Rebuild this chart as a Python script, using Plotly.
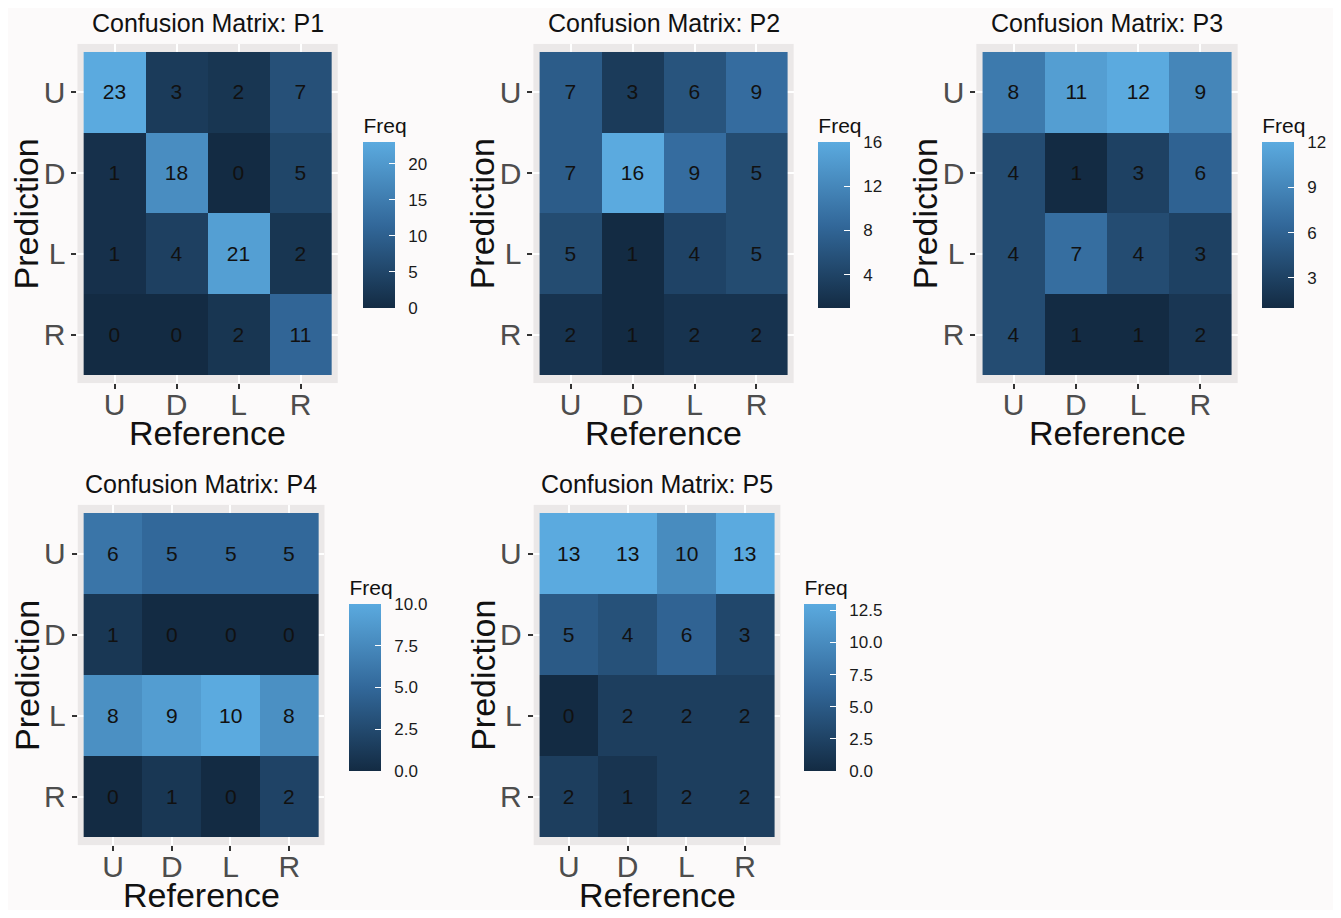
import plotly.graph_objects as go

# ---------------- data ----------------
REF_LABELS = ["U", "D", "L", "R"]      # Reference (x)
PRED_LABELS = ["U", "D", "L", "R"]     # Prediction (y), top to bottom
PANEL_NAMES = ["P1", "P2", "P3", "P4", "P5"]

P1 = [[23, 3, 2, 7], [1, 18, 0, 5], [1, 4, 21, 2], [0, 0, 2, 11]]
P2 = [[7, 3, 6, 9], [7, 16, 9, 5], [5, 1, 4, 5], [2, 1, 2, 2]]
P3 = [[8, 11, 12, 9], [4, 1, 3, 6], [4, 7, 4, 3], [4, 1, 1, 2]]
P4 = [[6, 5, 5, 5], [1, 0, 0, 0], [8, 9, 10, 8], [0, 1, 0, 2]]
P5 = [[13, 13, 10, 13], [5, 4, 6, 3], [0, 2, 2, 2], [2, 1, 2, 2]]
MATRICES = [P1, P2, P3, P4, P5]

CB_DTICK = [5, 4, 3, 2.5, 2.5]
CB_FORMAT = ["d", "d", "d", ".1f", ".1f"]

# ---------------- layout constants (pixels in the 1341x918 window) ----------------
WIN_W, WIN_H = 1341, 918
OFF = 8                      # default body margin of the html page
W, H = WIN_W - 2 * OFF, WIN_H - 2 * OFF

TILES = [(84, 333, 52, 375), (542, 791, 52, 375), (987, 1237, 52, 375),
         (84, 320, 513, 837), (542, 778, 513, 837)]
# colorbar: left x, bar top, bar bottom
CBARS = [(365, 143, 308), (822, 143, 308), (1268, 143, 308),
         (351, 605, 771), (808, 605, 771)]
CB_TITLE_H = 29
YTITLE_X = [27, 485, 930, 27, 485]

FONT = "Liberation Sans, Arial, Helvetica, sans-serif"
COLORSCALE = [[0, "#132B43"], [0.5, "#32689A"], [1, "#5BAADF"]]


def fx(px):
    return (px - OFF) / W


def fy(py):
    return 1 - (py - OFF) / H


fig = go.Figure()
annotations = []
layout = {}

for i, (mat, name) in enumerate(zip(MATRICES, PANEL_NAMES)):
    k = i + 1
    x0, x1, y0, y1 = TILES[i]
    ux = (x1 - x0) / 4.0
    uy = (y1 - y0) / 4.0
    px0, px1 = x0 - 0.1 * ux, x1 + 0.1 * ux
    py0, py1 = y0 - 0.1 * uy, y1 + 0.1 * uy
    cx, cy0, cy1 = CBARS[i]
    cb_top = cy0 - CB_TITLE_H

    fig.add_trace(go.Heatmap(
        x=REF_LABELS, y=PRED_LABELS, z=mat,
        xaxis=f"x{k}", yaxis=f"y{k}",
        colorscale=COLORSCALE,
        texttemplate="%{z}",
        textfont=dict(family=FONT, size=21, color="#111111"),
        hoverinfo="skip",
        xgap=0, ygap=0,
        colorbar=dict(
            x=fx(cx), xanchor="left", xpad=0,
            y=fy((cb_top + cy1) / 2), yanchor="middle", ypad=0,
            len=cy1 - cb_top, lenmode="pixels",
            thickness=32, thicknessmode="pixels",
            outlinewidth=0,
            title=dict(text="Freq", side="top",
                       font=dict(family=FONT, size=21, color="#111111")),
            tickmode="linear", tick0=0, dtick=CB_DTICK[i],
            tickformat=CB_FORMAT[i],
            tickprefix="\u00a0\u00a0",
            ticks="inside", ticklen=6, tickcolor="white", tickwidth=1,
            tickfont=dict(family=FONT, size=17, color="#1a1a1a"),
        ),
    ))

    axis_common = dict(
        type="category",
        showgrid=True, gridcolor="white", gridwidth=1.5,
        zeroline=False, showline=False,
        ticks="outside", ticklen=5, tickwidth=1.5, tickcolor="#333333",
        tickfont=dict(family=FONT, size=30, color="#4d4d4d"),
        fixedrange=True,
    )
    layout[f"xaxis{k}"] = dict(
        axis_common,
        domain=[fx(px0), fx(px1)], anchor=f"y{k}",
        categoryorder="array", categoryarray=REF_LABELS,
        range=[-0.6, 3.6],
        ticklabelstandoff=-10,
    )
    layout[f"yaxis{k}"] = dict(
        axis_common,
        domain=[fy(py1), fy(py0)], anchor=f"x{k}",
        categoryorder="array", categoryarray=PRED_LABELS,
        range=[3.6, -0.6],
    )

    # panel title
    annotations.append(dict(
        text=f"Confusion Matrix: {name}", xref="paper", yref="paper",
        x=fx((px0 + px1) / 2), y=fy(py0 - 21),
        xanchor="center", yanchor="middle", showarrow=False,
        font=dict(family=FONT, size=25, color="#111111")))
    # x-axis title
    annotations.append(dict(
        text="Reference", xref="paper", yref="paper",
        x=fx((px0 + px1) / 2), y=fy(py1 + 50),
        xanchor="center", yanchor="middle", showarrow=False,
        font=dict(family=FONT, size=34, color="#111111")))
    # y-axis title
    annotations.append(dict(
        text="Prediction", xref="paper", yref="paper",
        x=fx(YTITLE_X[i]), y=fy((py0 + py1) / 2),
        xanchor="center", yanchor="middle", showarrow=False, textangle=-90,
        font=dict(family=FONT, size=34, color="#111111")))

fig.update_layout(
    width=W, height=H, autosize=False,
    margin=dict(l=0, r=0, t=0, b=0, pad=0),
    paper_bgcolor="#fcfafa",
    plot_bgcolor="#ebe8e8",
    annotations=annotations,
    showlegend=False,
    **layout,
)

fig.write_html("out.html")
